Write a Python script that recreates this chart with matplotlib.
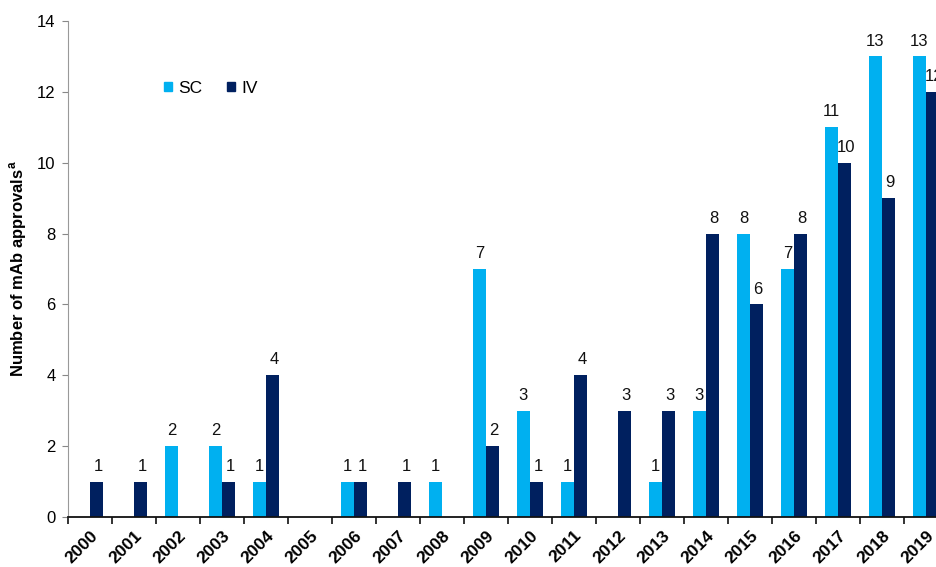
import matplotlib
matplotlib.use("Agg")
import matplotlib.pyplot as plt
from matplotlib.patches import Patch
import numpy as np

years = ["2000", "2001", "2002", "2003", "2004", "2005", "2006", "2007", "2008", "2009",
         "2010", "2011", "2012", "2013", "2014", "2015", "2016", "2017", "2018", "2019"]
sc = [0, 0, 2, 2, 1, 0, 1, 0, 1, 7, 3, 1, 0, 1, 3, 8, 7, 11, 13, 13]
iv = [1, 1, 0, 1, 4, 0, 1, 1, 0, 2, 1, 4, 3, 3, 8, 6, 8, 10, 9, 12]

SC_COLOR = "#00B0F0"
IV_COLOR = "#00205F"

plt.rcParams['font.family'] = ['Liberation Sans', 'DejaVu Sans']

fig = plt.figure(figsize=(9.37, 5.67), dpi=100)
ax = fig.add_axes([68/937, 50/567, 880/937, 496/567])

x = np.arange(len(years))
w = 0.3
ax.bar(x - w/2, sc, w, color=SC_COLOR, label="SC")
ax.bar(x + w/2, iv, w, color=IV_COLOR, label="IV")

for xi, v in zip(x, sc):
    if v > 0:
        ax.text(xi - w/2, v + 0.22, str(v), ha='center', va='bottom', fontsize=12, color='#111111')
for xi, v in zip(x, iv):
    if v > 0:
        ax.text(xi + w/2 + 0.03, v + 0.22, str(v), ha='center', va='bottom', fontsize=12, color='#111111')

ax.set_xlim(-0.5, len(years) - 0.5)
ax.set_ylim(0, 14)
ax.set_yticks(range(0, 15, 2))
ax.tick_params(axis='y', labelsize=12, length=4, color='#888888', pad=5)

ax.set_xticks(np.arange(len(years) + 1) - 0.5)
ax.set_xticklabels([])
ax.tick_params(axis='x', which='major', length=5, width=1.2, color='#111111')
ax.set_xticks(x, minor=True)
ax.set_xticklabels(years, minor=True, rotation=45, ha='right', rotation_mode='anchor',
                   fontsize=12.5, fontweight='bold')
ax.tick_params(axis='x', which='minor', length=0, pad=8)

for s in ['top', 'right']:
    ax.spines[s].set_visible(False)
ax.spines['left'].set_color('#999999')
ax.spines['bottom'].set_color('#111111')
ax.spines['bottom'].set_linewidth(1.3)

ax.set_ylabel("Number of mAb approvals$^{\\mathregular{a}}$", fontsize=12, fontweight='bold', labelpad=6)

handles = [Patch(color=SC_COLOR, label='SC'), Patch(color=IV_COLOR, label='IV')]
ax.legend(handles=handles, loc='upper left', bbox_to_anchor=(148/937, 1 - 65/567), bbox_transform=fig.transFigure,
          ncol=2, frameon=False, handlelength=0.5, handleheight=0.5, handletextpad=0.35,
          columnspacing=1.4, fontsize=12.5)

fig.savefig("out.png", dpi=100)
